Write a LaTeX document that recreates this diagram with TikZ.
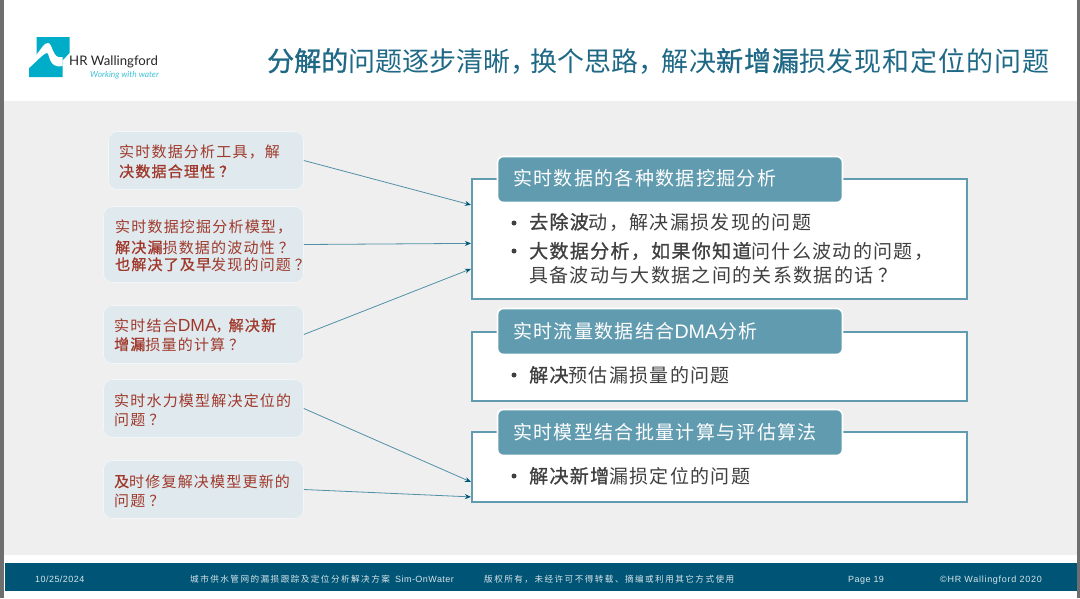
\documentclass[tikz,border=0pt]{standalone}
\usepackage{fontspec}
\setmainfont{Noto Sans CJK SC}
\newfontfamily\latinf{Liberation Sans}
\newfontfamily\logof{Lato}
\usetikzlibrary{arrows.meta,calc}
\definecolor{barblue}{HTML}{005475}
\definecolor{teal1}{HTML}{619BB0}
\definecolor{panel}{HTML}{EFEFEF}
\definecolor{qfill}{HTML}{DFE9EE}
\definecolor{qtext}{HTML}{A0392B}
\definecolor{bodytext}{HTML}{404040}
\definecolor{logoc}{HTML}{00ADC8}
\definecolor{edge}{HTML}{6E6E6E}
\newcommand{\ft}[2]{\fontsize{#1}{#1}\selectfont\addfontfeature{LetterSpace=#2}}
\newcommand{\bd}[1]{{\addfontfeature{FakeBold=1.1}#1}}
\newcommand{\qm}{\kern4pt？}
\newcommand{\dma}[1]{{\latinf\fontsize{#1}{#1}\selectfont DMA}}
\tikzset{
 qbox/.style={draw=white!60!qfill,line width=0.7pt,fill=qfill,rounded corners=9pt,minimum width=200pt,inner sep=0pt,anchor=center},
 qlabel/.style={anchor=base west,inner sep=0pt,text=qtext,font=\ft{15}{8}},
 rbox/.style={draw=teal1,line width=2.2pt,fill=white,inner sep=0pt,minimum width=495pt},
 hbox/.style={draw=white,line width=1.6pt,fill=teal1,rounded corners=6pt,inner sep=0pt,minimum width=345pt,minimum height=46pt},
 hlabel/.style={anchor=base west,inner sep=0pt,text=white,font=\ft{19}{7}},
 blabel/.style={anchor=base west,inner sep=0pt,text=bodytext,font=\ft{19}{7}},
 bdot/.style={circle,fill=bodytext,inner sep=0pt,minimum size=5pt},
 conn/.style={draw=teal1!85!barblue,line width=0.8pt,-{Stealth[length=6pt,width=5pt,color=barblue]}},
 ftext/.style={anchor=base west,inner sep=0pt,text=white!85!barblue,font=\ft{8.6}{17}},
 fltext/.style={anchor=base west,inner sep=0pt,text=white!85!barblue,font=\latinf\ft{9}{5}},
 ttext/.style={anchor=base west,inner sep=0pt,text=barblue!88,font=\ft{27}{0}}
}
\begin{document}
\begin{tikzpicture}[x=1pt,y=-1pt]
\useasboundingbox (0,0) rectangle (1080,598);
\fill[white] (0,0) rectangle (1080,598);
\fill[panel] (4,101) rectangle (1077,555);
\fill[edge] (0,0) rectangle (4,598);
\fill[edge] (1077,0) rectangle (1080,598);
\fill[barblue] (5,563) rectangle (1077,591);
% logo
\fill[logoc] (36.5,37) -- (69.5,37) -- (69.5,53) -- (62.5,60.5) -- (62.5,77) -- (29,77) -- (29,64) -- (36.5,56.5) -- cycle;
\fill[white] (36.5,54.5) .. controls (42,48) and (44,43) .. (48,43) .. controls (53,43) and (52,60) .. (62.5,57)
  -- (62.5,66) .. controls (48,69) and (50,53) .. (47,53) .. controls (44,53) and (36,62) .. (29,68) -- (29,62) -- cycle;
\node[anchor=base west,inner sep=0pt,text=black!85,font=\logof\fontsize{13.2}{13.2}\selectfont] (logoname) at (69,65.5) {HR Wallingford};
\node[anchor=base west,inner sep=0pt,text=logoc!75,font=\logof\itshape\fontsize{8.4}{8.4}\selectfont] (logotag) at (90,77) {Working with water};
% title
\node[ttext] (title1) at (267,71) {\bd{分解的}问题逐步清晰，};
\node[ttext] (title2) at (530,71) {换个思路，};
\node[ttext,font=\ft{27}{3.5}] (title3) at (661,71) {解决\bd{新增漏}损发现和定位的问题};
% question boxes
\node[qbox,minimum width=195pt,minimum height=58pt] (q1) at (206,160.5) {};
\node[qbox,minimum height=76pt] (q2) at (203.5,244.5) {};
\node[qbox,minimum height=58pt] (q3) at (203.5,334.5) {};
\node[qbox,minimum height=58pt] (q4) at (203.5,408.5) {};
\node[qbox,minimum height=58pt] (q5) at (203.5,489.5) {};
\node[qlabel] (q1a) at (119,157) {实时数据分析工具，解};
\node[qlabel] (q1b) at (119,177) {\bd{决数据合理性\qm}};
\node[qlabel] (q2a) at (115,232) {实时数据挖掘分析模型，};
\node[qlabel] (q2b) at (115,253) {\bd{解决漏}损数据的波动性\qm};
\node[qlabel] (q2c) at (115,270) {\bd{也解决了及早}发现的问题\qm};
\node[qlabel] (q3a) at (114,331) {实时结合\dma{17.5}\kern-1pt，\kern-2pt\bd{解决新}};
\node[qlabel] (q3b) at (114,350) {\bd{增漏}损量的计算\qm};
\node[qlabel] (q4a) at (114,406) {实时水力模型解决定位的};
\node[qlabel] (q4b) at (114,425) {问题\qm};
\node[qlabel] (q5a) at (114,487) {\bd{及}时修复解决模型更新的};
\node[qlabel] (q5b) at (114,506) {问题\qm};
% right boxes
\node[rbox,minimum height=120pt] (ra) at (719.5,239) {};
\node[rbox,minimum height=69pt] (rb) at (719.5,366.5) {};
\node[rbox,minimum height=70pt] (rc) at (719.5,467) {};
\node[hbox] (ha) at (670,179.5) {};
\node[hbox] (hb) at (670,331.5) {};
\node[hbox] (hc) at (670,432.5) {};
\node[hlabel] (hat) at (513,185) {实时数据的各种数据挖掘分析};
\node[hlabel] (hbt) at (513,338) {实时流量数据结合\dma{19.6}分析};
\node[hlabel] (hct) at (513,439) {实时模型结合批量计算与评估算法};
\node[bdot] (d1) at (514,223) {};
\node[blabel] (a1) at (529,229) {\bd{去除波}动，解决漏损发现的问题};
\node[bdot] (d2) at (514,251) {};
\node[blabel] (a2) at (529,258) {\bd{大数据分析，如果你知道}问什么波动的问题，};
\node[blabel] (a3) at (529,282) {具备波动与大数据之间的关系数据的话\kern5pt？};
\node[bdot] (d3) at (514,375) {};
\node[blabel] (b1) at (529,382) {\bd{解决}预估漏损量的问题};
\node[bdot] (d4) at (514,476) {};
\node[blabel] (c1) at (529,483) {\bd{解决新增}漏损定位的问题};
% connectors
\coordinate (t1) at ($(ra.north west)+(0,27)$);
\coordinate (t2) at ($(ra.north west)+(0,65.5)$);
\coordinate (t3) at ($(ra.north west)+(0,91)$);
\coordinate (t4) at ($(rc.north west)+(0,51)$);
\coordinate (t5) at ($(rc.north west)+(0,66)$);
\draw[conn] (q1.east) -- (t1);
\draw[conn] (q2.east) -- (t2);
\draw[conn] (q3.east) -- (t3);
\draw[conn] (q4.east) -- (t4);
\draw[conn] (q5.east) -- (t5);
% footer
\node[fltext] (f1) at (35,582) {10/25/2024};
\node[ftext] (f2) at (190,582) {城市供水管网的漏损跟踪及定位分析解决方案};
\node[fltext] (f2b) at (395,582) {Sim-OnWater};
\node[ftext] (f3) at (484,582) {版权所有，未经许可不得转载、摘编或利用其它方式使用};
\node[fltext] (f4) at (848,582) {Page 19};
\node[fltext,font=\latinf\ft{9}{8}] (f5) at (940,582) {©HR Wallingford 2020};
\end{tikzpicture}
\end{document}
